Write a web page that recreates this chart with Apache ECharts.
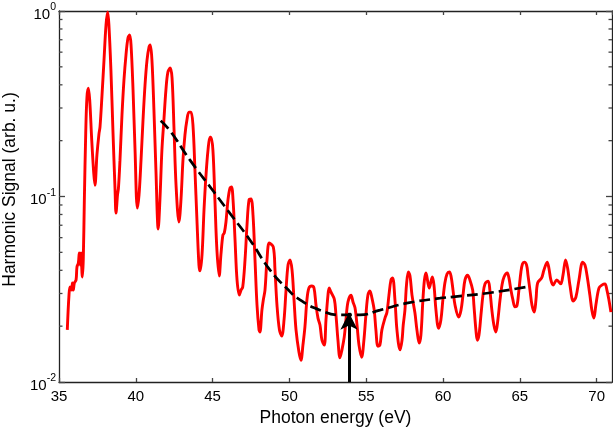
<!DOCTYPE html>
<html>
<head>
<meta charset="utf-8">
<script src="https://cdn.jsdelivr.net/npm/echarts@6/dist/echarts.min.js"></script>
<style>
html,body{margin:0;padding:0;background:#fff;}
#chart{width:613px;height:430px;}
</style>
</head>
<body>
<div id="chart"></div>
<script>
// Photon energy (eV) and harmonic signal (arb. u.)
var energy = [35.54,35.65,35.72,35.83,35.87,35.93,36.00,36.11,36.17,36.26,36.32,36.39,36.43,36.52,36.58,36.65,36.74,36.82,36.91,37.00,37.13,37.26,37.34,37.47,37.60,37.67,37.80,37.93,38.06,38.17,38.25,38.38,38.51,38.65,38.71,38.81,38.87,38.97,39.10,39.23,39.36,39.49,39.60,39.69,39.82,39.95,40.10,40.21,40.34,40.47,40.60,40.73,40.86,40.94,41.05,41.18,41.31,41.46,41.57,41.70,41.83,41.96,42.09,42.24,42.36,42.49,42.62,42.81,42.94,43.07,43.20,43.33,43.46,43.59,43.72,43.85,43.98,44.11,44.18,44.31,44.44,44.57,44.70,44.83,44.89,45.02,45.15,45.28,45.43,45.54,45.67,45.76,45.87,46.00,46.13,46.23,46.33,46.46,46.59,46.74,46.85,46.96,47.11,47.24,47.37,47.50,47.63,47.76,47.89,48.02,48.08,48.21,48.30,48.41,48.54,48.69,48.95,49.06,49.19,49.35,49.50,49.65,49.78,49.91,50.04,50.17,50.30,50.43,50.62,50.75,50.88,51.01,51.14,51.27,51.45,51.60,51.73,51.86,51.99,52.12,52.27,52.38,52.51,52.59,52.70,52.92,53.03,53.16,53.29,53.42,53.57,53.68,53.81,54.01,54.14,54.27,54.40,54.53,54.70,54.85,54.98,55.11,55.24,55.37,55.52,55.63,55.76,55.89,56.02,56.22,56.35,56.48,56.61,56.72,56.87,57.00,57.20,57.33,57.41,57.52,57.62,57.74,57.85,57.98,58.17,58.30,58.45,58.56,58.69,58.79,58.89,59.10,59.30,59.41,59.54,59.71,59.86,59.99,60.12,60.26,60.41,60.52,60.65,60.78,61.02,61.17,61.30,61.43,61.60,61.75,61.93,62.01,62.14,62.23,62.34,62.47,62.60,62.73,62.94,63.05,63.18,63.31,63.44,63.57,63.71,63.84,63.97,64.18,64.29,64.42,64.55,64.68,64.81,64.94,65.07,65.17,65.29,65.44,65.53,65.66,65.79,65.94,66.05,66.16,66.42,66.57,66.78,66.89,67.02,67.17,67.40,67.66,67.81,67.98,68.13,68.26,68.48,68.65,68.85,69.09,69.24,69.37,69.56,69.69,69.82,69.95,70.15,70.34,70.54,70.67,70.80,70.93];
var signal = [0.0191,0.0294,0.0325,0.0313,0.0342,0.0313,0.0342,0.0355,0.0417,0.0438,0.0496,0.0427,0.0496,0.0368,0.0455,0.0958,0.220,0.344,0.384,0.331,0.202,0.134,0.115,0.1675,0.217,0.237,0.352,0.544,0.840,0.988,0.840,0.481,0.228,0.108,0.0815,0.102,0.111,0.157,0.275,0.425,0.579,0.715,0.742,0.656,0.375,0.178,0.0867,0.102,0.157,0.259,0.399,0.544,0.640,0.656,0.544,0.293,0.139,0.0668,0.0958,0.178,0.259,0.375,0.469,0.493,0.435,0.228,0.115,0.0729,0.0958,0.157,0.215,0.259,0.285,0.285,0.243,0.139,0.0747,0.0427,0.0397,0.0484,0.0846,0.1305,0.178,0.209,0.209,0.178,0.0958,0.0515,0.0373,0.0484,0.0620,0.0636,0.0729,0.0958,0.111,0.1125,0.0958,0.0583,0.0355,0.0294,0.0313,0.0325,0.0455,0.0702,0.0958,0.0969,0.0795,0.0455,0.0260,0.0191,0.0186,0.0244,0.0277,0.0313,0.0455,0.0561,0.0534,0.0402,0.0260,0.0191,0.0177,0.0216,0.0313,0.0427,0.0455,0.0402,0.0277,0.0191,0.0145,0.0131,0.0158,0.0198,0.0277,0.0321,0.0329,0.0321,0.0260,0.0221,0.0203,0.0168,0.0158,0.0216,0.0294,0.0321,0.0306,0.0280,0.0230,0.0168,0.0135,0.0149,0.0175,0.0216,0.0270,0.0294,0.0270,0.0251,0.0203,0.0158,0.0136,0.0168,0.0230,0.0294,0.0310,0.0284,0.0244,0.0191,0.0156,0.0158,0.0191,0.0221,0.0238,0.0294,0.0355,0.0364,0.0277,0.0191,0.0149,0.0168,0.0203,0.0244,0.0333,0.0392,0.0373,0.0294,0.0236,0.0191,0.0162,0.0179,0.0277,0.0355,0.0387,0.0321,0.0368,0.0333,0.0244,0.0195,0.0216,0.0277,0.0342,0.0382,0.0392,0.0373,0.0313,0.0260,0.0224,0.0244,0.0294,0.0355,0.0377,0.0355,0.0313,0.0260,0.0191,0.0168,0.0179,0.0230,0.0294,0.0338,0.0350,0.0313,0.0244,0.0203,0.0186,0.0216,0.0277,0.0333,0.0368,0.0387,0.0364,0.0313,0.0277,0.0254,0.0257,0.0313,0.0392,0.0433,0.0443,0.0427,0.0377,0.0313,0.0260,0.0238,0.0277,0.0342,0.0364,0.0402,0.0443,0.0412,0.0355,0.0333,0.0355,0.0338,0.0377,0.0455,0.0402,0.0333,0.0273,0.0287,0.0355,0.0443,0.0427,0.0377,0.0294,0.0244,0.0221,0.0260,0.0321,0.0333,0.0338,0.0313,0.0277,0.0238];

// Dashed envelope (fit) curve
var fitEnergy = [41.62,42.23,43.53,45.04,46.13,47.43,48.73,49.82,50.69,52.00,53.29,54.59,55.89,57.63,59.80,60.67,62.84,65.48];
var fitSignal = [0.256,0.226,0.157,0.107,0.0811,0.0583,0.0402,0.0320,0.0277,0.0244,0.0230,0.0230,0.0244,0.0266,0.0283,0.0288,0.0301,0.0326];

// Arrow marking the minimum
var arrowEnergy = 53.88;
var arrowTip = 0.0236;

// Axis ranges and ticks
var xMin = 35, xMax = 71, xStep = 5;
var yMin = 0.01, yMax = 1;
var yMinorTicks = [0.02,0.03,0.04,0.05,0.06,0.07,0.08,0.09,0.2,0.3,0.4,0.5,0.6,0.7,0.8,0.9];

var chart = echarts.init(document.getElementById('chart'), null, {renderer: 'canvas'});
var FONT = 'Liberation Sans, Arial, Helvetica, sans-serif';
var axisCol = '#222';

var option = {
  animation: false,
  backgroundColor: '#fff',
  grid: {left: 59, right: 1, top: 11, bottom: 48, containLabel: false, outerBoundsMode: 'none'},
  xAxis: [{
    type: 'value', min: xMin, max: xMax, interval: xStep, position: 'bottom',
    name: 'Photon energy (eV)', nameLocation: 'middle', nameGap: 23,
    nameTextStyle: {fontFamily: FONT, fontSize: 17.5, color: '#000'},
    axisLine: {show: true, onZero: false, lineStyle: {color: axisCol, width: 1.3}},
    axisTick: {show: true, inside: true, length: 4, lineStyle: {color: '#444', width: 1.3}},
    axisLabel: {fontFamily: FONT, fontSize: 15, color: '#000', margin: 7, showMaxLabel: false},
    splitLine: {show: false}
  }, {
    type: 'value', min: xMin, max: xMax, interval: xStep, position: 'top',
    axisLine: {show: true, onZero: false, lineStyle: {color: axisCol, width: 1.3}},
    axisTick: {show: true, inside: true, length: 4, lineStyle: {color: '#444', width: 1.3}},
    axisLabel: {show: false},
    splitLine: {show: false}
  }],
  yAxis: [{
    type: 'log', logBase: 10, min: yMin, max: yMax, position: 'left',
    name: 'Harmonic Signal (arb. u.)', nameLocation: 'middle', nameGap: 29,
    nameTextStyle: {fontFamily: FONT, fontSize: 17.5, color: '#000', padding: [0, 0, 0, 14]},
    axisLine: {show: true, onZero: false, lineStyle: {color: axisCol, width: 1.3}},
    axisTick: {show: true, inside: true, length: 6, lineStyle: {color: '#444', width: 1.3}},
    axisLabel: {
      margin: 3,
      formatter: function (v) {
        var e = Math.round(Math.log(v) / Math.LN10);
        return '{b|10}{s|' + e + '}';
      },
      rich: {
        b: {fontFamily: FONT, fontSize: 15, color: '#000', verticalAlign: 'bottom', lineHeight: 22},
        s: {fontFamily: FONT, fontSize: 10.5, color: '#000', verticalAlign: 'bottom', lineHeight: 22, padding: [0, 0, 9, 0]}
      }
    },
    splitLine: {show: false}
  }, {
    type: 'log', logBase: 10, min: yMin, max: yMax, position: 'right',
    axisLine: {show: true, onZero: false, lineStyle: {color: axisCol, width: 1.3}},
    axisTick: {show: true, inside: true, length: 6, lineStyle: {color: '#444', width: 1.3}},
    axisLabel: {show: false},
    splitLine: {show: false}
  }],
  series: [{
    name: 'signal', type: 'line', xAxisIndex: 0, yAxisIndex: 0,
    data: energy.map(function (x, i) { return [x, signal[i]]; }),
    showSymbol: false, symbol: 'none', smooth: 0.35,
    lineStyle: {color: '#ff0000', width: 2.9},
    z: 3
  }, {
    name: 'fit', type: 'line', xAxisIndex: 0, yAxisIndex: 0,
    data: fitEnergy.map(function (x, i) { return [x, fitSignal[i]]; }),
    showSymbol: false, symbol: 'none', smooth: true,
    lineStyle: {color: '#000', width: 2.7, type: [11, 5]},
    z: 4
  }, {
    name: 'arrow', type: 'line', xAxisIndex: 0, yAxisIndex: 0, data: [],
    markLine: {
      silent: true, symbol: ['none', 'arrow'], symbolSize: [13, 17],
      label: {show: false},
      lineStyle: {color: '#000', width: 3, type: 'solid'},
      data: [[{coord: [arrowEnergy, yMin]}, {coord: [arrowEnergy, arrowTip]}]]
    },
    z: 5
  }, {
    name: 'minorTicks', type: 'custom', xAxisIndex: 0, yAxisIndex: 0, silent: true,
    data: yMinorTicks.map(function (v) { return [xMin, v]; }),
    clip: false,
    renderItem: function (params, api) {
      var p = api.coord([xMin, api.value(1)]);
      var cs = params.coordSys;
      var L = cs.x, R = cs.x + cs.width, len = 3.5;
      return {
        type: 'group',
        children: [
          {type: 'line', shape: {x1: L, y1: p[1], x2: L + len, y2: p[1]}, style: {stroke: '#444', lineWidth: 1.3}},
          {type: 'line', shape: {x1: R, y1: p[1], x2: R - len, y2: p[1]}, style: {stroke: '#444', lineWidth: 1.3}}
        ]
      };
    },
    z: 2
  }]
};
chart.setOption(option);
</script>
</body>
</html>
